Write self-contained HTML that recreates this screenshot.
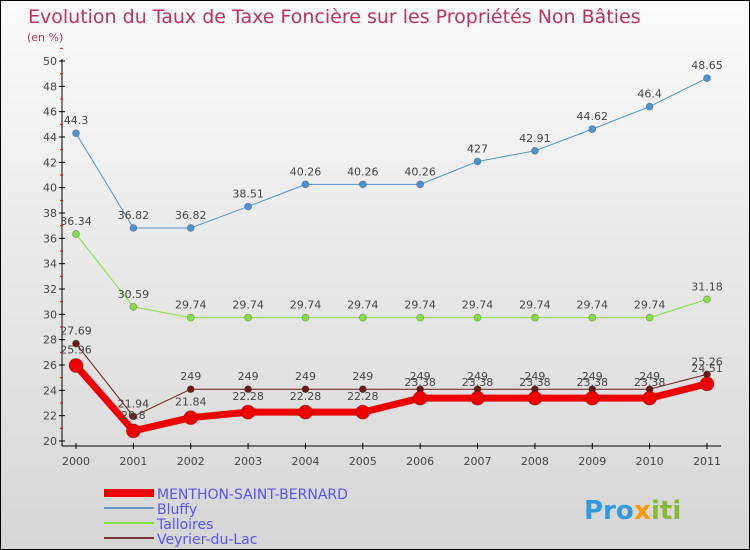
<!DOCTYPE html>
<html><head><meta charset="utf-8"><style>
body{margin:0;}
#c{width:750px;height:550px;position:relative;box-sizing:border-box;border:1px solid #000;background:linear-gradient(#fafafa,#d6d6d6);font-family:"DejaVu Sans","Liberation Sans",sans-serif;overflow:hidden}
svg text{font-family:"DejaVu Sans","Liberation Sans",sans-serif}
</style></head><body>
<div id="c">
<svg id="s" width="750" height="550">
<text x="27" y="22" font-size="19" fill="#c0305c">Evolution du Taux de Taxe Foncière sur les Propriétés Non Bâties</text>
<text x="26" y="40" font-size="11" fill="#c0305c">(en %)</text>
<g id="axes"></g><g id="series"></g>
<g>
<rect x="103" y="488" width="50" height="8" fill="#ee0000"/>
<text x="156" y="498" font-size="14" fill="#5555ee">MENTHON-SAINT-BERNARD</text>
<line x1="103" y1="507" x2="153" y2="507" stroke="#6699cc" stroke-width="2"/>
<text x="156" y="513" font-size="14" fill="#5555ee">Bluffy</text>
<line x1="103" y1="522" x2="153" y2="522" stroke="#88dd44" stroke-width="2"/>
<text x="156" y="528" font-size="14" fill="#5555ee">Talloires</text>
<line x1="103" y1="537" x2="153" y2="537" stroke="#773333" stroke-width="2"/>
<text x="156" y="543" font-size="14" fill="#5555ee">Veyrier-du-Lac</text>
</g>
<g font-size="26" font-weight="bold">
<text x="583" y="518" fill="#3399dd">Pro</text><text x="633" y="518" fill="#ff9900">x</text><text x="650" y="518" fill="#88bb33">iti</text>
</g>
</svg></div>
<script>
const years=[2000,2001,2002,2003,2004,2005,2006,2007,2008,2009,2010,2011];
const yTicks=[20,22,24,26,28,30,32,34,36,38,40,42,44,46,48,50];
const menthon=[25.96,20.8,21.84,22.28,22.28,22.28,23.38,23.38,23.38,23.38,23.38,24.51];
const bluffy=[44.3,36.82,36.82,38.51,40.26,40.26,40.26,42.07,42.91,44.62,46.4,48.65];
const talloires=[36.34,30.59,29.74,29.74,29.74,29.74,29.74,29.74,29.74,29.74,29.74,31.18];
const veyrier=[27.69,21.94,24.09,24.09,24.09,24.09,24.09,24.09,24.09,24.09,24.09,25.26];
const NS="http://www.w3.org/2000/svg";
const X=i=>75+i*(706-75)/(years.length-1);
const Y=v=>440-(v-20)*(440-60)/30;
function mk(tag,attrs,parent,txt){const e=document.createElementNS(NS,tag);for(const k in attrs)e.setAttribute(k,attrs[k]);if(txt!==undefined)e.textContent=txt;parent.appendChild(e);return e;}
const ax=document.getElementById('axes');
const a1=mk('line',{x1:61,y1:58,x2:61,y2:445,stroke:'#000'},ax);


const a2=mk('line',{x1:61,y1:445,x2:720,y2:445,stroke:'#000'},ax);


yTicks.forEach(v=>{
  mk('line',{x1:58,y1:Y(v),x2:64,y2:Y(v),stroke:'#000'},ax);
  mk('line',{x1:59,y1:Y(v+1),x2:62,y2:Y(v+1),stroke:'#e00'},ax);
  const t=mk('text',{x:56,y:Y(v)+4,'font-size':11,fill:'#444','text-anchor':'end'},ax,v);
  
  
});
years.forEach((y,i)=>{
  mk('line',{x1:X(i),y1:442,x2:X(i),y2:448,stroke:'#000'},ax);
  const t=mk('text',{x:X(i),y:464,'font-size':11,fill:'#444','text-anchor':'middle'},ax,y);
  
  
});
const sg=document.getElementById('series');
function series(data,color,w,r,name,labOff){
  const g=mk('g',{},sg);
  
  
  const pl=mk('polyline',{points:data.map((v,i)=>X(i)+','+Y(v)).join(' '),fill:'none',stroke:color,'stroke-width':w,'stroke-linejoin':'round'},g);
  
  
  data.forEach((v,i)=>{
    const c=mk('circle',{cx:X(i),cy:Y(v),r:r,fill:color,stroke:'rgba(0,0,0,0.3)','stroke-width':0.7},g);
    
    
    const t=mk('text',{x:X(i),y:Y(v)-labOff,'font-size':11,fill:'#444','text-anchor':'middle'},g,String(v).replace('.0',''));
    
    
  });
}
series(bluffy,'#4f90cf',1,3.5,'bluffy',9);
series(talloires,'#88dd44',1,3.5,'talloires',9);
series(veyrier,'#6b1a1a',1,3.5,'veyrier',9);
series(menthon,'#ee0000',7,7,'menthon',12);
</script>
</body></html>
